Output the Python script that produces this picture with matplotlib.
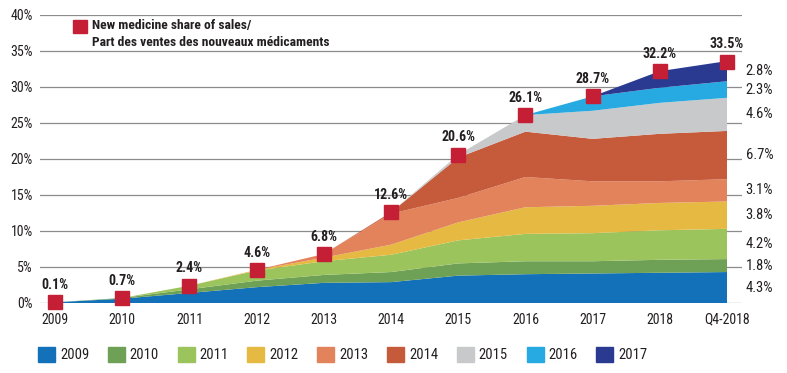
import matplotlib
matplotlib.use('Agg')
import matplotlib.pyplot as plt
from matplotlib.patches import Rectangle
from matplotlib import font_manager as fm
import numpy as np

# ---------------- data ----------------
periods = ['2009', '2010', '2011', '2012', '2013', '2014', '2015', '2016', '2017', '2018', 'Q4-2018']
cohorts = ['2009', '2010', '2011', '2012', '2013', '2014', '2015', '2016', '2017']

c2009 = [0.1, 0.6, 1.4, 2.2, 2.8, 2.9, 3.8, 4.0, 4.1, 4.2, 4.3]
c2010 = [0.0, 0.1, 0.5, 0.9, 1.1, 1.4, 1.7, 1.8, 1.7, 1.8, 1.8]
c2011 = [0.0, 0.0, 0.5, 1.4, 1.9, 2.4, 3.2, 3.8, 3.9, 4.1, 4.2]
c2012 = [0.0, 0.0, 0.0, 0.1, 0.5, 1.4, 2.5, 3.7, 3.8, 3.8, 3.8]
c2013 = [0.0, 0.0, 0.0, 0.0, 0.5, 4.3, 3.4, 4.2, 3.4, 3.0, 3.1]
c2014 = [0.0, 0.0, 0.0, 0.0, 0.0, 0.2, 5.6, 6.3, 5.9, 6.6, 6.7]
c2015 = [0.0, 0.0, 0.0, 0.0, 0.0, 0.0, 0.4, 2.3, 3.9, 4.3, 4.6]
c2016 = [0.0, 0.0, 0.0, 0.0, 0.0, 0.0, 0.0, 0.0, 2.0, 2.1, 2.3]
c2017 = [0.0, 0.0, 0.0, 0.0, 0.0, 0.0, 0.0, 0.0, 0.0, 2.3, 2.8]

total_share = [0.1, 0.7, 2.4, 4.6, 6.8, 12.6, 20.6, 26.1, 28.7, 32.2, 33.5]
share_labels = ['0.1%', '0.7%', '2.4%', '4.6%', '6.8%', '12.6%', '20.6%', '26.1%', '28.7%', '32.2%', '33.5%']
right_labels = ['4.3%', '1.8%', '4.2%', '3.8%', '3.1%', '6.7%', '4.6%', '2.3%', '2.8%']

y_ticks = [0, 5, 10, 15, 20, 25, 30, 35, 40]
y_tick_labels = ['0%', '5%', '10%', '15%', '20%', '25%', '30%', '35%', '40%']

legend_title = ['New medicine share of sales/', 'Part des ventes des nouveaux médicaments']

# ---------------- font choice (condensed if available) ----------------
fonts = fm.fontManager.ttflist
names = {f.name for f in fonts}
stretch = 'normal'
if 'Liberation Sans Narrow' in names:
    family = 'Liberation Sans Narrow'
elif 'Roboto Condensed' in names:
    family = 'Roboto Condensed'
elif any(f.name == 'DejaVu Sans' and f.stretch == 'condensed' for f in fonts):
    family = 'DejaVu Sans'
    stretch = 'condensed'
elif 'Liberation Sans' in names:
    family = 'Liberation Sans'
else:
    family = 'DejaVu Sans'
plt.rcParams['font.family'] = [family, 'DejaVu Sans']
plt.rcParams['font.stretch'] = stretch

# ---------------- style ----------------
colors = ['#1271B9', '#6EA155', '#9CC45C', '#E6BA42', '#E2835C',
          '#C65B3C', '#C8C9CB', '#27AAE1', '#2B3A91']
marker_red = '#C41F35'
text_col = '#231F20'

W, H = 787, 373
fig = plt.figure(figsize=(W / 100, H / 100), dpi=100)
ax = fig.add_axes([40 / W, 1 - 303 / H, 702 / W, 288 / H])

layers = [c2009, c2010, c2011, c2012, c2013, c2014, c2015, c2016, c2017]
x = np.arange(len(periods))
ax.stackplot(x, layers, colors=colors, linewidth=0, zorder=2)

step = 67.2
ax.set_xlim(-15 / step, len(periods) - 1 + 15 / step)
ax.set_ylim(0, 40)
ax.set_yticks(y_ticks)
ax.set_yticklabels(y_tick_labels)
ax.set_xticks(x)
ax.set_xticklabels(periods)
ax.grid(axis='y', color='#8C8C8C', lw=0.9, zorder=0)
ax.grid(axis='x', visible=False)
ax.set_axisbelow(True)
for s in ax.spines.values():
    s.set_visible(False)
ax.tick_params(axis='both', length=0, labelsize=10, colors=text_col)
ax.tick_params(axis='y', pad=5)
ax.tick_params(axis='x', pad=7)

# markers and labels for total share
ax.plot(x, total_share, 's', color=marker_red, ms=9.5, zorder=6, clip_on=False)
for xi, v, lab in zip(x, total_share, share_labels):
    ax.annotate(lab, (xi, v), xytext=(0, 12.5), textcoords='offset points',
                ha='center', va='center', fontsize=10, fontweight='bold', color=text_col)

# right-side labels at midpoints of last segments
last = np.array([l[-1] for l in layers])
mids = np.cumsum(last) - last / 2
for m, lab in zip(mids, right_labels):
    ax.annotate(lab, (x[-1], m), xytext=(13.5, 0), textcoords='offset points',
                ha='left', va='center', fontsize=10.5, color=text_col, annotation_clip=False)

# top legend
fig.patches.append(Rectangle((73 / W, 1 - 33 / H), 14 / W, 13 / H, color=marker_red,
                             transform=fig.transFigure, figure=fig))
fig.text(92 / W, 1 - 25 / H, legend_title[0], fontsize=9.7, fontweight='bold',
         va='center', ha='left', color=text_col)
fig.text(92 / W, 1 - 43 / H, legend_title[1], fontsize=9.7, fontweight='bold',
         va='center', ha='left', color=text_col)

# bottom legend
for i, (lab, col) in enumerate(zip(cohorts, colors)):
    x0 = 38 + i * 69.8
    fig.patches.append(Rectangle((x0 / W, 1 - 362 / H), 17 / W, 15 / H, color=col,
                                 transform=fig.transFigure, figure=fig))
    fig.text((x0 + 22) / W, 1 - 355 / H, lab, fontsize=10.5, va='center', ha='left',
             color=text_col)

fig.savefig('out.png', dpi=100)
